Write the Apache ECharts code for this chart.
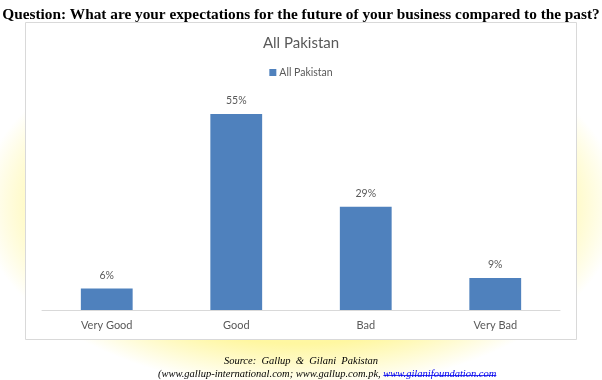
<!DOCTYPE html>
<html><head><meta charset="utf-8">
<script src="https://cdn.jsdelivr.net/npm/echarts@6/dist/echarts.min.js"></script>
<style>
html,body{margin:0;padding:0;background:#fff;}
#c{width:602px;height:380px;background:
 radial-gradient(ellipse 320px 185px at 300px 205px, rgba(255,250,190,1) 0%, rgba(255,246,150,0.9) 75%, rgba(255,255,255,0) 100%);}
</style></head>
<body><div id="c"></div>
<script>
const question = "Question: What are your expectations for the future of your business compared to the past?";
const chartTitle = "All Pakistan";
const seriesName = "All Pakistan";
const categories = ["Very Good", "Good", "Bad", "Very Bad"];
const values = [6, 55, 29, 9];
const sourceLine1 = "Source:  Gallup  &  Gilani  Pakistan";
const sourceLine2a = "(www.gallup-international.com; www.gallup.com.pk, ";
const sourceLine2b = "www.gilanifoundation.com";

const chart = echarts.init(document.getElementById('c'), null, {renderer:'canvas'});
const grey = '#595959';
const sans = 'Lato, "Open Sans", sans-serif';
const serif = '"Liberation Serif", serif';
const boxRect = {type:'rect', z:-10, shape:{x:25.5,y:22.5,width:551,height:317}, style:{fill:'#fff', stroke:'#d9d9d9', lineWidth:1}};
chart.setOption({
  animation:false,
  backgroundColor:'transparent',
  graphic:[boxRect],
  title:[
    {text:question, left:'center', top:3, textStyle:{fontFamily:serif, fontWeight:'bold', fontSize:15.3, color:'#000'}},
    {text:chartTitle, left:'center', top:31, textStyle:{fontFamily:sans, fontWeight:'normal', fontSize:15, color:grey}},
    {text:sourceLine1, left:'center', top:351, textStyle:{fontFamily:serif, fontStyle:'italic', fontWeight:'normal', fontSize:10.5, color:'#000'}},
    {text:'{a|'+sourceLine2a+'}{b|'+sourceLine2b+'}', left:153, top:364, textStyle:{fontWeight:'normal', rich:{
      a:{fontFamily:serif, fontStyle:'italic', fontWeight:'normal', fontSize:10.5, color:'#000'},
      b:{fontFamily:serif, fontStyle:'italic', fontWeight:'normal', fontSize:10.5, color:'#0000ee'}}}}
  ],
  legend:{top:62, left:'center', itemWidth:7, itemHeight:7, itemGap:4, icon:'rect',
    textStyle:{fontFamily:sans, fontSize:10.5, color:grey, padding:[0,0,0,-2]}, data:[seriesName]},
  grid:{left:42, right:42, top:96.2, bottom:70},
  xAxis:{type:'category', data:categories,
    axisLine:{lineStyle:{color:'#d9d9d9', width:1}}, axisTick:{show:false},
    axisLabel:{fontFamily:sans, fontSize:11, color:grey, margin:10}},
  yAxis:{type:'value', min:0, max:60, show:false, splitLine:{show:false}},
  series:[{name:seriesName, type:'bar', data:values, barCategoryGap:'60%',
    itemStyle:{color:'#4f81bd'},
    label:{show:true, position:'top', formatter:'{c}%', fontFamily:sans, fontSize:10.5, color:grey, distance:8}}]
});
const ctx = document.createElement('canvas').getContext('2d');
ctx.font = 'italic 10.5px "Liberation Serif"';
const wa = ctx.measureText(sourceLine2a).width, wb = ctx.measureText(sourceLine2b).width;
chart.setOption({graphic:[
  boxRect,
  {type:'line', z:10, shape:{x1:158+wa,y1:375.5,x2:158+wa+wb,y2:375.5}, style:{stroke:'#0000ee', lineWidth:0.8}}
]});
</script></body></html>
